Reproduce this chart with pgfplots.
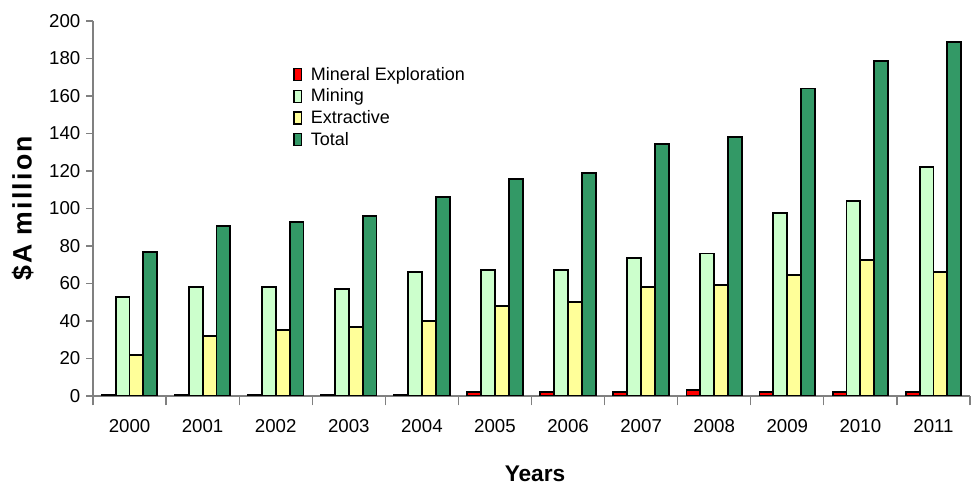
\documentclass[border=0pt]{standalone}
\usepackage{pgfplots}
\pgfplotsset{compat=1.18}
\usepackage{fontspec}
\setmainfont{Liberation Sans}

\definecolor{mexpl}{HTML}{FF0000}
\definecolor{mining}{HTML}{CCFFCC}
\definecolor{extract}{HTML}{FFFF99}
\definecolor{total}{HTML}{339966}

\begin{document}
\begin{tikzpicture}
  \begin{axis}[
      name=ax,
      scale only axis,
      width=657.75pt, height=281.25pt,
      ybar=0pt,
      bar width=0.19,
      xmin=-0.5, xmax=11.5,
      ymin=0, ymax=200,
      ytick={0,20,...,200},
      xtick={0,...,11},
      xticklabels={2000,2001,2002,2003,2004,2005,2006,2007,2008,2009,2010,2011},
      minor xtick={-0.5,0.5,...,11.5},
      major x tick style={draw=none},
      minor tick length=7pt,
      major tick length=5pt,
      tick align=outside,
      axis lines*=left,
      axis line style={gray, line width=0.9pt},
      tick style={gray, line width=0.9pt},
      /pgf/number format/assume math mode=true,
      tick label style={font=\fontsize{14}{16}\selectfont},
      xticklabel style={yshift=-9pt},
      yticklabel style={xshift=-1pt},
      ylabel={\$A million},
      xlabel={Years},
      ylabel style={at={(axis description cs:-0.08,0.5)}, anchor=center,
        font=\bfseries\fontsize{20}{22}\selectfont\addfontfeatures{LetterSpace=8}},
      xlabel style={at={(axis description cs:0.504,-0.208)}, anchor=center,
        font=\bfseries\fontsize{17}{19}\selectfont},
      every axis plot/.append style={draw=black, line width=1.4pt},
      legend image code/.code={%
        \draw[#1, line width=1pt] (0pt,-4.5pt) rectangle (5.5pt,4.5pt);
        \path (10pt,0pt);},
      legend style={at={(0.228,0.885)}, anchor=north west, draw=none, fill=none,
        inner sep=0pt, row sep=1pt,
        font=\fontsize{13.5}{15}\selectfont},
      legend cell align=left,
    ]

    \addplot[fill=mexpl] coordinates {
      (0,0.5) (1,0.5) (2,0.5) (3,0.5) (4,0.5) (5,2)
      (6,2) (7,2) (8,3) (9,2) (10,2) (11,2)
    };
    \addlegendentry{Mineral Exploration}

    \addplot[fill=mining] coordinates {
      (0,53) (1,58) (2,58) (3,57) (4,66) (5,67)
      (6,67) (7,73.5) (8,76) (9,97.5) (10,104) (11,122)
    };
    \addlegendentry{Mining}

    \addplot[fill=extract] coordinates {
      (0,22) (1,32) (2,35) (3,37) (4,40) (5,48)
      (6,50) (7,58) (8,59) (9,64.5) (10,72.5) (11,66)
    };
    \addlegendentry{Extractive}

    \addplot[fill=total] coordinates {
      (0,77) (1,90.5) (2,93) (3,96) (4,106) (5,115.5)
      (6,119) (7,134.5) (8,138) (9,164) (10,178.5) (11,189)
    };
    \addlegendentry{Total}

  \end{axis}
  \pgfresetboundingbox
  \path[use as bounding box]
    ([xshift=-69.75pt,yshift=-69pt]ax.south west) rectangle
    ([xshift=0.75pt,yshift=15.75pt]ax.north east);
\end{tikzpicture}
\end{document}
